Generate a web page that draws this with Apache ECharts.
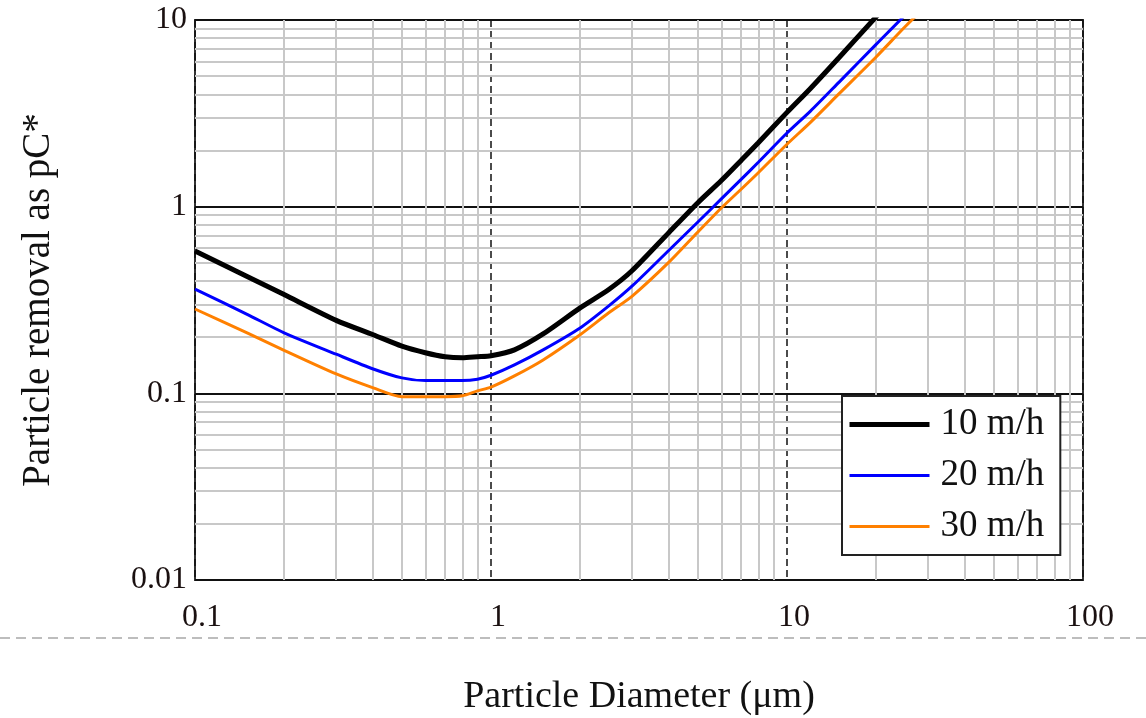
<!DOCTYPE html>
<html>
<head>
<meta charset="utf-8">
<script src="https://cdn.jsdelivr.net/npm/echarts@6/dist/echarts.min.js"></script>
<style>html,body{margin:0;padding:0;background:#fff;}#c{width:1146px;height:718px;}</style>
</head>
<body>
<div id="c"></div>
<script>
// Particle diameter (µm)
const diameters = [0.1, 0.15, 0.2, 0.3, 0.4, 0.5, 0.6, 0.7, 0.8, 0.9, 1.0, 1.2, 1.5, 2, 2.5, 3, 4, 5, 6, 7, 8, 10, 12, 15, 20, 25, 30];
// pC* for each filtration rate
const rate10 = [0.579, 0.423, 0.338, 0.246, 0.206, 0.179, 0.165, 0.157, 0.155, 0.157, 0.159, 0.171, 0.208, 0.287, 0.360, 0.455, 0.730, 1.05, 1.38, 1.77, 2.20, 3.20, 4.30, 6.30, 10.4, 15.2, 20.7];
const rate20 = [0.362, 0.265, 0.211, 0.162, 0.135, 0.121, 0.117, 0.117, 0.117, 0.119, 0.125, 0.142, 0.171, 0.224, 0.294, 0.376, 0.586, 0.828, 1.10, 1.40, 1.73, 2.48, 3.25, 4.65, 7.40, 10.6, 14.5];
const rate30 = [0.283, 0.211, 0.170, 0.127, 0.107, 0.096, 0.096, 0.096, 0.097, 0.103, 0.108, 0.124, 0.151, 0.206, 0.270, 0.332, 0.506, 0.732, 0.984, 1.24, 1.52, 2.16, 2.83, 4.03, 6.34, 9.17, 12.2];
const seriesNames = ['10 m/h', '20 m/h', '30 m/h'];
const xTickLabels = ['0.1', '1', '10', '100'];
const yTickLabels = ['0.01', '0.1', '1', '10'];
const xMinorGrid = [0.2,0.3,0.4,0.5,0.6,0.7,0.8,0.9, 2,3,4,5,6,7,8,9, 20,30,40,50,60,70,80,90];
const yMinorGrid = [0.02,0.03,0.04,0.05,0.06,0.07,0.08,0.09, 0.2,0.3,0.4,0.5,0.6,0.7,0.8,0.9, 2,3,4,5,6,7,8,9];

const serif = 'Liberation Serif, Times New Roman, serif';
const pair = arr => diameters.map((d, i) => [d, arr[i]]);

const minorLines = xMinorGrid.map(v => ({xAxis: v})).concat(yMinorGrid.map(v => ({yAxis: v})));

const chart = echarts.init(document.getElementById('c'));
chart.setOption({
  animation: false,
  backgroundColor: '#fff',
  grid: {left: 195, top: 20, right: 63, bottom: 138, outerBoundsMode: 'none', containLabel: false,
    show: true, borderColor: '#333', borderWidth: 2, backgroundColor: 'transparent'},
  xAxis: {
    type: 'log', logBase: 10, min: 0.1, max: 100,
    name: 'Particle Diameter (μm)', nameLocation: 'middle', nameGap: 98,
    nameTextStyle: {fontFamily: serif, fontSize: 38, color: '#111'},
    axisLine: {show: false}, axisTick: {show: false},
    axisLabel: {fontFamily: serif, fontSize: 32, color: '#1a1010', margin: 22, padding: [0,0,0,14],
      formatter: (v, i) => xTickLabels[i]},
    splitLine: {show: true, lineStyle: {color: '#111', width: 1.5, type: [7, 4]}}
  },
  yAxis: {
    type: 'log', logBase: 10, min: 0.01, max: 10,
    name: 'Particle removal as pC*', nameLocation: 'middle', nameGap: 137,
    nameTextStyle: {fontFamily: serif, fontSize: 39, color: '#111'},
    axisLine: {show: false}, axisTick: {show: false},
    axisLabel: {fontFamily: serif, fontSize: 32, color: '#1a1010', margin: 8,
      formatter: (v, i) => yTickLabels[i]},
    splitLine: {show: true, lineStyle: {color: '#111', width: 2}}
  },
  legend: {
    orient: 'vertical', left: 842, top: 396,
    backgroundColor: '#fff', borderColor: '#222', borderWidth: 2, borderRadius: 0,
    padding: [10, 16, 10, 5], itemGap: 14, itemWidth: 80, itemHeight: 14,
    itemStyle: {opacity: 0},
    textStyle: {fontFamily: serif, fontSize: 37, color: '#111', padding: [0,0,0,6]},
    data: [
      {name: seriesNames[0], lineStyle: {width: 5}},
      {name: seriesNames[1], lineStyle: {width: 3}},
      {name: seriesNames[2], lineStyle: {width: 3}}
    ]
  },
  graphic: [{
    type: 'line', silent: true,
    shape: {x1: 0, y1: 638, x2: 1146, y2: 638},
    style: {stroke: '#bdbdbd', lineWidth: 2, lineDash: [10, 6]}
  }],
  series: [
    {name: '_minor', type: 'line', data: [], silent: true, z: 1,
     markLine: {silent: true, symbol: 'none', z: 1, animation: false, label: {show: false},
       lineStyle: {color: '#c8c8c8', width: 2, type: 'solid'}, emphasis: {disabled: true}, data: minorLines}},
    {name: seriesNames[0], type: 'line', data: pair(rate10), showSymbol: false, symbol: 'none', smooth: 0.25, z: 5,
     lineStyle: {color: '#000', width: 5}, itemStyle: {color: '#000'}},
    {name: seriesNames[1], type: 'line', data: pair(rate20), showSymbol: false, symbol: 'none', smooth: 0.25, z: 4,
     lineStyle: {color: '#0000ff', width: 3}, itemStyle: {color: '#0000ff'}},
    {name: seriesNames[2], type: 'line', data: pair(rate30), showSymbol: false, symbol: 'none', smooth: 0.25, z: 3,
     lineStyle: {color: '#ff8000', width: 3}, itemStyle: {color: '#ff8000'}}
  ]
});
</script>
</body>
</html>
